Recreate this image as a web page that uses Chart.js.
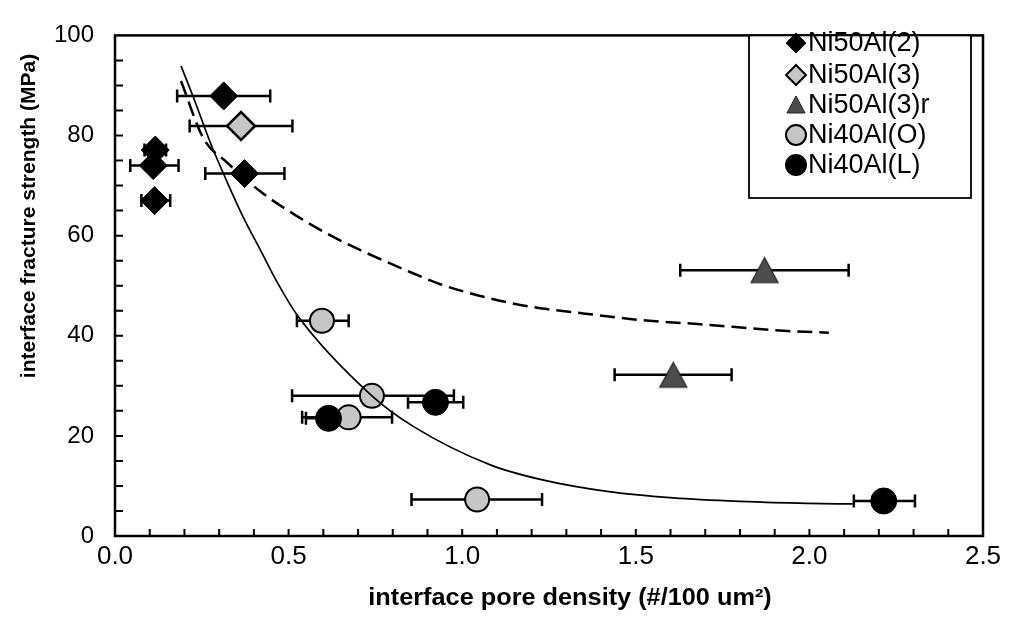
<!DOCTYPE html>
<html><head><meta charset="utf-8">
<script src="https://cdn.jsdelivr.net/npm/chart.js@4.4.1/dist/chart.umd.min.js"></script>
<style>html,body{margin:0;padding:0;background:#fff}#wrap{width:1009px;height:640px;position:relative}</style>
</head><body><div id="wrap"><canvas id="c" width="1009" height="640"></canvas></div>
<script>
// ---- data ----
const xTickLabels = ['0.0','0.5','1.0','1.5','2.0','2.5'];
const yTickLabels = ['0','20','40','60','80','100'];
const seriesNames = ['Ni50Al(2)','Ni50Al(3)','Ni50Al(3)r','Ni40Al(O)','Ni40Al(L)'];
const xTitle = 'interface pore density (#/100 um\u00B2)';
const yTitle = 'interface fracture strength (MPa)';

const ni50al2X   = [0.313, 0.116, 0.110, 0.114, 0.373];
const ni50al2Y   = [87.9, 77.1, 74.0, 67.0, 72.4];
const ni50al2Lo  = [0.179, 0.085, 0.044, 0.076, 0.260];
const ni50al2Hi  = [0.447, 0.147, 0.183, 0.159, 0.488];

const ni50al3X   = [0.363];
const ni50al3Y   = [81.9];
const ni50al3Lo  = [0.215];
const ni50al3Hi  = [0.511];

const ni50al3rX  = [1.871, 1.608];
const ni50al3rY  = [53.1, 32.2];
const ni50al3rLo = [1.628, 1.439];
const ni50al3rHi = [2.113, 1.776];

const ni40alOX   = [0.596, 0.740, 0.673, 1.043];
const ni40alOY   = [43.0, 28.0, 23.7, 7.3];
const ni40alOLo  = [0.524, 0.510, 0.539, 0.854];
const ni40alOHi  = [0.673, 0.976, 0.798, 1.230];

const ni40alLX   = [0.923, 0.615, 2.214];
const ni40alLY   = [26.7, 23.5, 7.0];
const ni40alLLo  = [0.844, 0.550, 2.128];
const ni40alLHi  = [1.003, 0.680, 2.304];

const solidFitX  = [0.190,0.226,0.275,0.323,0.370,0.419,0.467,0.524,0.740,0.859,1.081,1.225,1.417,1.608,1.801,1.994,2.125];
const solidFitY  = [93.9,87.6,78.5,70.7,63.6,57.1,50.7,44.2,28.0,21.9,14.2,11.3,8.9,7.6,6.9,6.5,6.4];
const dashFitX   = [0.190,0.255,0.323,0.419,0.515,0.611,0.707,0.841,0.937,1.033,1.129,1.225,1.321,1.417,1.504,1.686,1.926,2.056];
const dashFitY   = [90.9,79.4,74.6,68.8,64.3,60.4,57.1,53.0,50.3,48.3,46.7,45.5,44.7,43.9,43.2,42.3,41.0,40.6];

// ---- helpers ----
const pts = (xs, ys) => xs.map((x, i) => ({x, y: ys[i]}));
const FONT = "'Liberation Sans', Arial, sans-serif";
const LIGHT = '#c6c6c6';
const DARK = '#4d4d4d';

function triCanvas(w, h, fill) {
  const c = document.createElement('canvas');
  c.width = w + 4; c.height = h + 4;
  const g = c.getContext('2d');
  g.beginPath();
  g.moveTo(c.width / 2, 2);
  g.lineTo(c.width - 2, h + 2);
  g.lineTo(2, h + 2);
  g.closePath();
  g.fillStyle = fill; g.fill();
  g.lineWidth = 1.2; g.strokeStyle = '#222'; g.stroke();
  return c;
}
const triBig = triCanvas(27, 25, DARK);

const errSets = [
  {lo: ni50al2Lo, hi: ni50al2Hi, ys: ni50al2Y},
  {lo: ni50al3Lo, hi: ni50al3Hi, ys: ni50al3Y},
  {lo: ni50al3rLo, hi: ni50al3rHi, ys: ni50al3rY},
  {lo: ni40alOLo, hi: ni40alOHi, ys: ni40alOY},
  {lo: ni40alLLo, hi: ni40alLHi, ys: ni40alLY},
];

const errorBars = {
  id: 'errorBars',
  beforeDatasetsDraw(chart) {
    const {ctx, scales: {x, y}} = chart;
    ctx.save();
    ctx.strokeStyle = '#000';
    ctx.lineWidth = 2.5;
    errSets.forEach(s => {
      s.ys.forEach((v, i) => {
        const py = y.getPixelForValue(v);
        const a = x.getPixelForValue(s.lo[i]);
        const b = x.getPixelForValue(s.hi[i]);
        ctx.beginPath();
        ctx.moveTo(a, py); ctx.lineTo(b, py);
        ctx.moveTo(a, py - 6.5); ctx.lineTo(a, py + 6.5);
        ctx.moveTo(b, py - 6.5); ctx.lineTo(b, py + 6.5);
        ctx.stroke();
      });
    });
    ctx.restore();
  }
};

const frame = {
  id: 'frame',
  afterDraw(chart) {
    const {ctx, chartArea: ca, scales: {x, y}} = chart;
    ctx.save();
    ctx.strokeStyle = '#000';
    ctx.lineWidth = 2.5;
    ctx.strokeRect(ca.left, ca.top, ca.right - ca.left, ca.bottom - ca.top);
    ctx.lineWidth = 2;
    ctx.beginPath();
    for (let v = 5; v < 100; v += 5) {
      const py = y.getPixelForValue(v);
      ctx.moveTo(ca.left, py); ctx.lineTo(ca.left + 8, py);
    }
    for (let k = 1; k < 25; k++) {
      const px = x.getPixelForValue(k / 10);
      ctx.moveTo(px, ca.bottom); ctx.lineTo(px, ca.bottom - 7);
    }
    ctx.stroke();

    // axis titles
    ctx.fillStyle = '#000';
    ctx.textAlign = 'center';
    ctx.textBaseline = 'middle';
    ctx.save();
    ctx.translate(29, 216);
    ctx.rotate(-Math.PI / 2);
    ctx.font = 'bold 21px ' + FONT;
    ctx.fillText(yTitle, 0, 0);
    ctx.restore();
    ctx.save();
    ctx.translate(570, 599);
    ctx.scale(1.1, 1);
    ctx.font = 'bold 23px ' + FONT;
    ctx.fillText(xTitle, 0, 0);
    ctx.restore();

    // legend
    const L = 749, R = 971, T = ca.top, B = 198;
    ctx.fillStyle = '#fff';
    ctx.fillRect(L, T, R - L, B - T);
    ctx.lineWidth = 1.8;
    ctx.strokeRect(L, T, R - L, B - T);
    const rows = [43, 75, 105, 135, 165];
    const mx = 796;
    ctx.font = '27px ' + FONT;
    ctx.textAlign = 'left';
    ctx.textBaseline = 'middle';
    rows.forEach((ry, i) => {
      ctx.save();
      if (i === 0 || i === 1) {
        ctx.beginPath();
        ctx.moveTo(mx, ry - 10); ctx.lineTo(mx + 10, ry); ctx.lineTo(mx, ry + 10); ctx.lineTo(mx - 10, ry);
        ctx.closePath();
        ctx.fillStyle = i === 0 ? '#000' : LIGHT;
        ctx.fill();
        ctx.lineWidth = i === 0 ? 1 : 2;
        ctx.strokeStyle = '#000';
        ctx.stroke();
      } else if (i === 2) {
        ctx.beginPath();
        ctx.moveTo(mx, ry - 9); ctx.lineTo(mx + 9, ry + 8); ctx.lineTo(mx - 9, ry + 8);
        ctx.closePath();
        ctx.fillStyle = DARK; ctx.fill();
        ctx.lineWidth = 1; ctx.strokeStyle = '#222'; ctx.stroke();
      } else {
        ctx.beginPath();
        ctx.arc(mx, ry, 10, 0, Math.PI * 2);
        ctx.fillStyle = i === 3 ? LIGHT : '#000';
        ctx.fill();
        ctx.lineWidth = 2; ctx.strokeStyle = '#000'; ctx.stroke();
      }
      ctx.restore();
      ctx.fillStyle = '#000';
      ctx.fillText(seriesNames[i], 808, ry + 1);
    });
    ctx.restore();
  }
};

const ctx = document.getElementById('c').getContext('2d');
new Chart(ctx, {
  type: 'scatter',
  data: {
    datasets: [
      {label: seriesNames[0], data: pts(ni50al2X, ni50al2Y), pointStyle: 'rectRot', pointRadius: 14,
       backgroundColor: '#000', borderColor: '#000', borderWidth: 1, order: 5},
      {label: seriesNames[1], data: pts(ni50al3X, ni50al3Y), pointStyle: 'rectRot', pointRadius: 14,
       backgroundColor: LIGHT, borderColor: '#000', borderWidth: 2.5, order: 4},
      {label: seriesNames[2], data: pts(ni50al3rX, ni50al3rY), pointStyle: triBig, pointRadius: 14,
       backgroundColor: DARK, borderColor: '#000', borderWidth: 1, order: 3},
      {label: seriesNames[3], data: pts(ni40alOX, ni40alOY), pointStyle: 'circle', pointRadius: 12,
       backgroundColor: LIGHT, borderColor: '#000', borderWidth: 2, order: 2},
      {label: seriesNames[4], data: pts(ni40alLX, ni40alLY), pointStyle: 'circle', pointRadius: 13,
       backgroundColor: '#000', borderColor: '#000', borderWidth: 1, order: 1},
      {label: 'fit1', type: 'line', data: pts(solidFitX, solidFitY), showLine: true, pointRadius: 0,
       borderColor: '#000', borderWidth: 1.7, fill: false, cubicInterpolationMode: 'monotone', order: 0},
      {label: 'fit2', type: 'line', data: pts(dashFitX, dashFitY), showLine: true, pointRadius: 0,
       borderColor: '#000', borderWidth: 2.5, borderDash: [15, 7], fill: false, cubicInterpolationMode: 'monotone', order: 0},
    ]
  },
  options: {
    responsive: false,
    animation: false,
    devicePixelRatio: 1,
    layout: {padding: {left: 0, top: 21, right: 26, bottom: 0}},
    plugins: {legend: {display: false}, tooltip: {enabled: false}},
    scales: {
      x: {
        type: 'linear', min: 0, max: 2.5,
        afterFit: s => { s.height = 104; },
        afterBuildTicks: s => { s.ticks = xTickLabels.map(t => ({value: parseFloat(t)})); },
        grid: {display: false, drawTicks: false},
        border: {display: false},
        ticks: {color: '#000', font: {family: FONT, size: 26}, padding: 5,
                callback: (v, i) => xTickLabels[i], maxRotation: 0, autoSkip: false}
      },
      y: {
        type: 'linear', min: 0, max: 100,
        afterFit: s => { s.width = 115; },
        afterBuildTicks: s => { s.ticks = yTickLabels.map(t => ({value: parseFloat(t)})); },
        grid: {display: false, drawTicks: false},
        border: {display: false},
        ticks: {color: '#000', font: {family: FONT, size: 24}, padding: 21,
                callback: (v, i) => yTickLabels[i], autoSkip: false}
      }
    }
  },
  plugins: [errorBars, frame]
});
</script>
</body></html>
